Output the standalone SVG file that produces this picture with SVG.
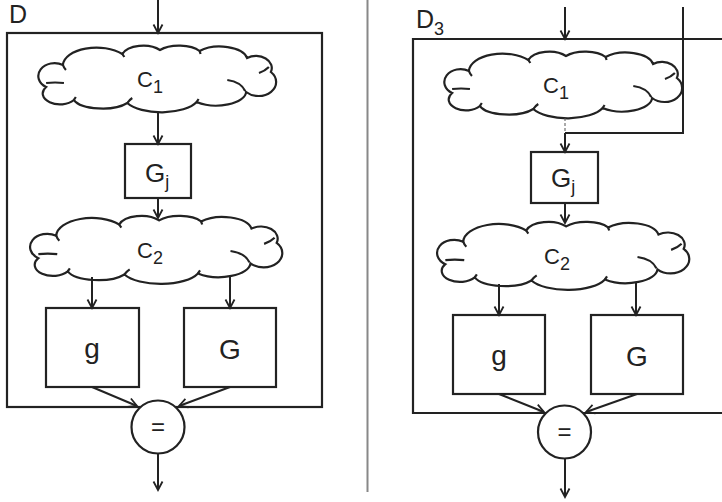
<svg xmlns="http://www.w3.org/2000/svg" width="722" height="502" viewBox="0 0 722 502">
<style>
.ln{stroke:#222;stroke-width:2;fill:none}
.bx{stroke:#222;stroke-width:2.2;fill:#fff}
.frame{stroke:#222;stroke-width:2.2;fill:none}
.cl{stroke:#222;stroke-width:2.2;fill:#fff;vector-effect:non-scaling-stroke}
.tk{stroke:#222;stroke-width:2.2;fill:none;vector-effect:non-scaling-stroke}
.t{font-family:"Liberation Sans","DejaVu Sans",sans-serif;fill:#222}
.arr{marker-end:url(#ah)}
</style>
<defs>
<marker id="ah" markerUnits="userSpaceOnUse" viewBox="-10 -6 12 12" refX="0" refY="0" markerWidth="12" markerHeight="12" orient="auto">
<path d="M-8.5,-4.5 L0,0 L-8.5,4.5" fill="none" stroke="#222" stroke-width="1.8"/>
</marker>
<g id="cloud">
<path class="cl" d="M -96,-14 A 34 18 0 0 1 -36,-25 A 22 12 0 0 1 2,-29 A 24 11 0 0 1 42,-28 A 28 14 0 0 1 90,-21 A 16 12 0 0 1 114,-7 A 14 11 0 0 1 89,13 A 30 14 0 0 1 39,23 A 38 16 0 0 1 -31,24 A 30 12 0 0 1 -85,21 A 16 10 0 0 1 -113,8 A 14 11 0 0 1 -96,-14 Z"/>
<path class="tk" d="M -113,4 Q -104,3 -95,4 M -96,-14 Q -95,-11 -93,-9 M 70,1 Q 84,3 88,12 M 102,-6 Q 108,-8 112,-12 M -36,-25 L -34,-22 M 42,-28 L 43,-25 M 39,23 L 41,20 M -31,24 Q -29,21 -26,19 M -85,21 L -83,18"/>
</g>
</defs>

<!-- separator -->
<line x1="367.5" y1="0" x2="367.5" y2="492" stroke="#888" stroke-width="2"/>

<!-- LEFT PANEL -->
<g id="left-frame">
<rect class="frame" x="7" y="33" width="315" height="374"/>
<text class="t" x="9" y="23" font-size="25">D</text>
</g>
<g id="L-C1">
<use href="#cloud" transform="translate(158,79) scale(0.99,1)"/>
<text class="t" x="137" y="87" font-size="22">C<tspan font-size="18" dy="6">1</tspan></text>
</g>
<g id="L-Gj">
<rect class="bx" x="125" y="144" width="66" height="54"/>
<text class="t" x="145" y="182" font-size="26">G<tspan font-size="18" dy="6">j</tspan></text>
</g>
<g id="L-C2">
<use href="#cloud" transform="translate(157,250) scale(1.05,1.02)"/>
<text class="t" x="137" y="258" font-size="22">C<tspan font-size="18" dy="6">2</tspan></text>
</g>
<g id="L-g">
<rect class="bx" x="46" y="308" width="93" height="79"/>
<text class="t" x="92" y="358" font-size="28" text-anchor="middle">g</text>
</g>
<g id="L-G">
<rect class="bx" x="184" y="308" width="92" height="79"/>
<text class="t" x="230" y="359" font-size="28" text-anchor="middle">G</text>
</g>
<g id="L-eq">
<circle class="bx" cx="158" cy="427" r="26.5"/>
<text class="t" x="158" y="435" font-size="24" text-anchor="middle">=</text>
</g>

<!-- RIGHT PANEL -->
<g id="right-frame">
<path class="frame" d="M723,39 H413 V413 H723"/>
<text class="t" x="416" y="28" font-size="25">D<tspan font-size="18" dy="7">3</tspan></text>
</g>
<g id="R-C1">
<use href="#cloud" transform="translate(564,85) scale(0.99,1)"/>
<text class="t" x="543" y="93" font-size="22">C<tspan font-size="18" dy="6">1</tspan></text>
</g>
<g id="R-Gj">
<rect class="bx" x="531" y="152" width="67" height="51"/>
<text class="t" x="551" y="187" font-size="26">G<tspan font-size="18" dy="6">j</tspan></text>
</g>
<g id="R-C2">
<use href="#cloud" transform="translate(564,256) scale(1.05,1.02)"/>
<text class="t" x="544" y="264" font-size="22">C<tspan font-size="18" dy="6">2</tspan></text>
</g>
<g id="R-g">
<rect class="bx" x="453" y="315" width="92" height="79"/>
<text class="t" x="499" y="365" font-size="28" text-anchor="middle">g</text>
</g>
<g id="R-G">
<rect class="bx" x="591" y="315" width="92" height="79"/>
<text class="t" x="637" y="366" font-size="28" text-anchor="middle">G</text>
</g>
<g id="R-eq">
<circle class="bx" cx="564.5" cy="432" r="26.5"/>
<text class="t" x="564.5" y="440" font-size="24" text-anchor="middle">=</text>
</g>

<!-- CONNECTORS -->
<g id="connectors">
<line class="ln arr" x1="158" y1="0" x2="158" y2="33"/>
<line class="ln arr" x1="158" y1="112" x2="158" y2="144"/>
<line class="ln arr" x1="158" y1="198" x2="158" y2="218"/>
<line class="ln arr" x1="92" y1="277" x2="92" y2="308"/>
<line class="ln arr" x1="230" y1="276" x2="230" y2="308"/>
<line class="ln arr" x1="92" y1="387" x2="137" y2="406"/>
<line class="ln arr" x1="230" y1="387" x2="179" y2="406"/>
<line class="ln arr" x1="158" y1="453.5" x2="158" y2="490"/>

<line class="ln arr" x1="565" y1="7" x2="565" y2="39"/>
<line x1="565" y1="118" x2="565" y2="133" stroke="#555" stroke-width="1" stroke-dasharray="3,2"/>
<polyline class="ln" points="683,7 683,133 565,133"/>
<line class="ln arr" x1="565" y1="133" x2="565" y2="152"/>
<line class="ln arr" x1="565" y1="203" x2="565" y2="223"/>
<line class="ln arr" x1="499" y1="284" x2="499" y2="315"/>
<line class="ln arr" x1="636" y1="282" x2="636" y2="315"/>
<line class="ln arr" x1="499" y1="394" x2="544" y2="412"/>
<line class="ln arr" x1="637" y1="394" x2="586" y2="412"/>
<line class="ln arr" x1="565" y1="458.5" x2="565" y2="497"/>
</g>
</svg>
